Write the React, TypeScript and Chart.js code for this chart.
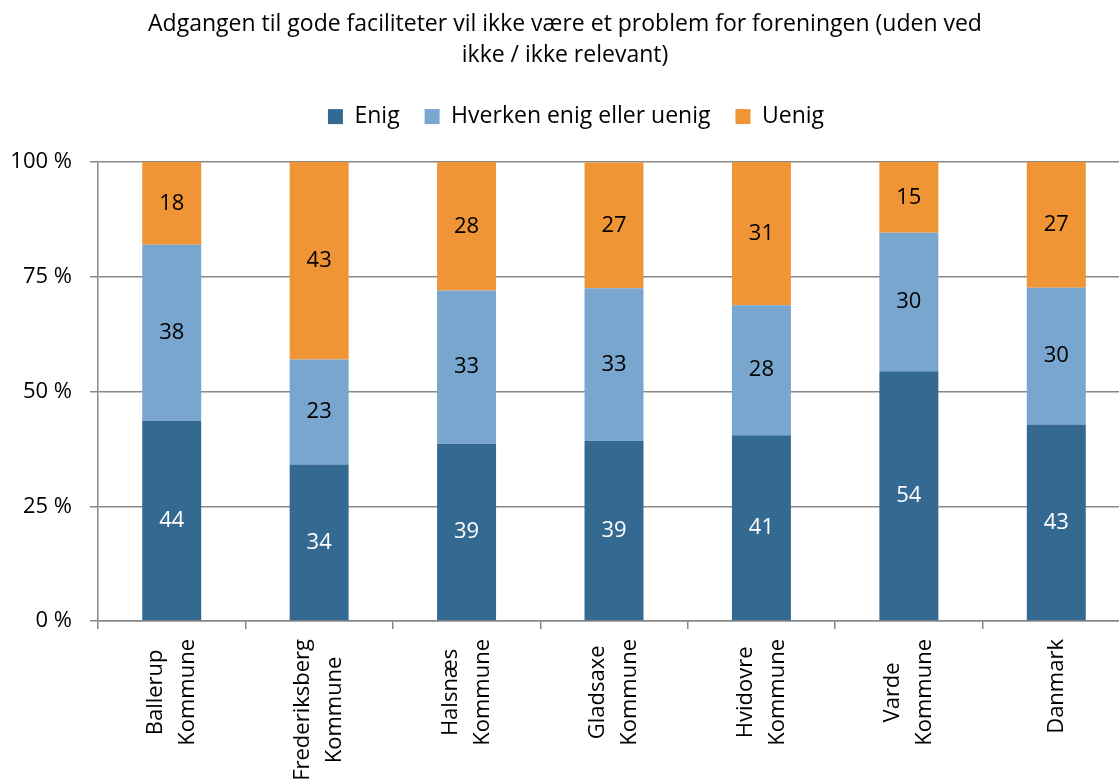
import React, { useEffect, useRef } from "react";
import { Chart, registerables } from "chart.js";

Chart.register(...registerables);

const categories: string[][] = [
  ["Ballerup", "Kommune"],
  ["Frederiksberg", "Kommune"],
  ["Halsnæs", "Kommune"],
  ["Gladsaxe", "Kommune"],
  ["Hvidovre", "Kommune"],
  ["Varde", "Kommune"],
  ["Danmark"],
];
const enig = [43.6, 34.1, 38.6, 39.3, 40.5, 54.4, 42.8];
const hverken = [38.4, 22.9, 33.4, 33.2, 28.3, 30.2, 29.8];
const uenig = [18.0, 43.0, 28.0, 27.4, 31.2, 15.4, 27.4];
const yTicks = [0, 25, 50, 75, 100];

const titleLines = [
  "Adgangen til gode faciliteter vil ikke være et problem for foreningen (uden ved",
  "ikke / ikke relevant)",
];

const FONT = "'Open Sans', 'Noto Sans', sans-serif";

const labelPlugin = {
  id: "segLabels",
  afterDatasetsDraw(chart: any) {
    const ctx = chart.ctx;
    ctx.save();
    ctx.font = `22px ${FONT}`;
    ctx.textAlign = "center";
    ctx.textBaseline = "middle";
    chart.data.datasets.forEach((ds: any, di: number) => {
      const meta = chart.getDatasetMeta(di);
      meta.data.forEach((el: any, i: number) => {
        const v = ds.data[i];
        const yc = (el.y + el.base) / 2;
        ctx.fillStyle = di === 0 ? "#ffffff" : "#000000";
        ctx.fillText(String(Math.round(v)), el.x, yc);
      });
    });
    ctx.restore();
  },
};

// x category labels: rotated, each line centred on the longest line
const xLabelPlugin = {
  id: "xLabels",
  afterDraw(chart: any) {
    const ctx = chart.ctx;
    const xs = chart.scales.x;
    const top = xs.top + 18;
    const lineGap = 32;
    ctx.save();
    ctx.font = `22px ${FONT}`;
    ctx.fillStyle = "#000";
    ctx.textAlign = "center";
    ctx.textBaseline = "middle";
    (chart.data.labels as string[][]).forEach((lines, i) => {
      const x = xs.getPixelForTick(i);
      const w = Math.max(...lines.map((l) => ctx.measureText(l).width));
      ctx.save();
      ctx.translate(x, top);
      ctx.rotate(-Math.PI / 2);
      lines.forEach((l, j) => {
        const off = (j - (lines.length - 1) / 2) * lineGap;
        ctx.fillText(l, -w / 2, off);
      });
      ctx.restore();
    });
    ctx.restore();
  },
};

const legendSpacing = {
  id: "legendSpacing",
  beforeInit(chart: any) {
    const legend = chart.legend;
    if (!legend) return;
    const orig = legend.fit;
    legend.fit = function () {
      orig.call(this);
      this.height += 24;
    };
  },
  afterLayout(chart: any) {
    if (chart.legend) chart.legend.left += 22;
  },
};

export default function App() {
  const ref = useRef<HTMLCanvasElement>(null);
  useEffect(() => {
    if (!ref.current) return;
    const chart = new Chart(ref.current, {
      type: "bar",
      data: {
        labels: categories,
        datasets: [
          { label: "Enig", data: enig, backgroundColor: "#346A91" },
          { label: "Hverken enig eller uenig", data: hverken, backgroundColor: "#79A6CE" },
          { label: "Uenig", data: uenig, backgroundColor: "#EF9536" },
        ],
      },
      options: {
        animation: false,
        responsive: false,
        maintainAspectRatio: false,
        layout: { padding: 0 },
        datasets: { bar: { barPercentage: 0.4, categoryPercentage: 1 } },
        plugins: {
          title: {
            display: true,
            text: titleLines,
            color: "#000",
            font: { family: FONT, size: 23, weight: "normal" as any, lineHeight: 1.35 },
            padding: { top: 9, bottom: 9 },
          },
          legend: {
            position: "top",
            labels: {
              color: "#000",
              font: { family: FONT, size: 23 },
              boxWidth: 15,
              boxHeight: 15,
              padding: 25,
            },
          },
          tooltip: { enabled: false },
        },
        scales: {
          x: {
            stacked: true,
            border: { color: "#888", width: 1.5 },
            grid: { offset: true, drawOnChartArea: false, drawTicks: true, tickLength: 8, color: "#888", lineWidth: 1.5 },
            ticks: {
              color: "rgba(0,0,0,0)",
              font: { family: FONT, size: 22 },
              minRotation: 90,
              maxRotation: 90,
              autoSkip: false,
            },
            afterFit(scale: any) {
              scale.height = 162;
            },
          },
          y: {
            stacked: true,
            min: 0,
            max: 100,
            border: { color: "#888", width: 1.5 },
            grid: { color: "#888", lineWidth: 1.5, tickLength: 8 },
            afterBuildTicks(scale: any) {
              scale.ticks = yTicks.map((v) => ({ value: v }));
            },
            ticks: {
              color: "#000",
              font: { family: FONT, size: 22 },
              padding: 18,
              callback: (v: any) => `${v} %`,
            },
            afterFit(scale: any) {
              scale.width = 98;
            },
          },
        },
      },
      plugins: [labelPlugin, xLabelPlugin, legendSpacing],
    });
    return () => chart.destroy();
  }, []);
  return (
    <div style={{ position: "fixed", left: 0, top: 0, width: 1119, height: 783, overflow: "hidden", background: "#fff" }}>
      <canvas ref={ref} width={1130} height={783} style={{ width: 1130, height: 783, display: "block" }} />
    </div>
  );
}
